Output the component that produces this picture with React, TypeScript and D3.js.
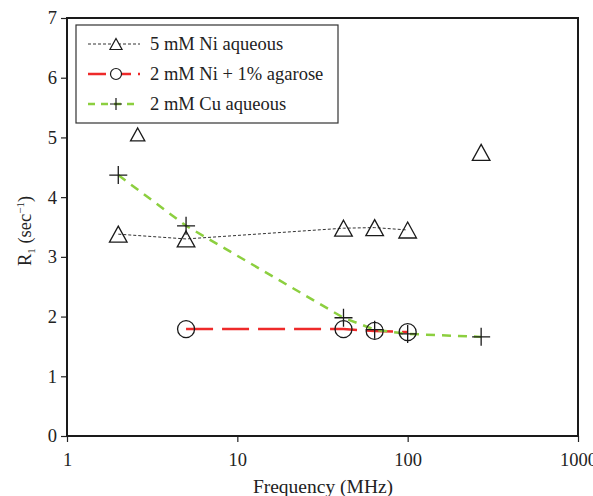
import React, { useEffect, useRef } from 'react';
import * as d3 from 'd3';

// Frequencies (MHz) and R1 values (sec^-1)
const niFreq = [2, 5, 42, 64, 100];
const niR1 = [3.38, 3.3, 3.48, 3.49, 3.45];

const agFreq = [5, 42, 64, 100];
const agR1 = [1.79, 1.79, 1.76, 1.74];

const cuFreq = [2, 5, 42, 64, 100, 270];
const cuR1 = [4.37, 3.52, 1.98, 1.78, 1.71, 1.66];

// lone triangles not joined by the line
const loneFreq = [2.6, 270];
const loneR1 = [5.05, 4.75];

const xTicks = [1, 10, 100, 1000];
const yTicks = [0, 1, 2, 3, 4, 5, 6, 7];

const legendLabels = ['5 mM Ni aqueous', '2 mM Ni + 1% agarose', '2 mM Cu aqueous'];

const FONT = '"Liberation Serif", "DejaVu Serif", serif';

const App = () => {
  const svgRef = useRef(null);

  useEffect(() => {
    const W = 593, H = 496;
    const left = 67, right = 578, top = 18, bottom = 436;

    const svg = d3.select(svgRef.current);
    svg.selectAll('*').remove();
    svg.attr('width', W).attr('height', H);

    const x = d3.scaleLog().domain([1, 1000]).range([left, right]);
    const y = d3.scaleLinear().domain([0, 7]).range([bottom, top]);

    const tri = (s) => `M0,${-s * 0.5}L${s * 0.55},${s * 0.5}L${-s * 0.55},${s * 0.5}Z`;
    const plus = (s) => `M${-s},0H${s}M0,${-s}V${s}`;

    // axes
    const xAxis = svg.append('g')
      .attr('transform', `translate(0,${bottom})`)
      .call(d3.axisBottom(x).tickValues(xTicks).tickFormat(d3.format('d')).tickSize(6).tickSizeOuter(0));
    xAxis.select('.domain').remove();
    xAxis.selectAll('line').attr('stroke', '#222').attr('stroke-width', 1.2);
    xAxis.selectAll('text').attr('font-family', FONT).attr('font-size', 18.5).attr('fill', '#222').attr('y', 12).attr('dy', '0.95em');

    const yAxis = svg.append('g')
      .attr('transform', `translate(${left},0)`)
      .call(d3.axisLeft(y).tickValues(yTicks).tickFormat(d3.format('d')).tickSize(6).tickSizeOuter(0));
    yAxis.select('.domain').remove();
    yAxis.selectAll('line').attr('stroke', '#222').attr('stroke-width', 1.2);
    yAxis.selectAll('text').attr('font-family', FONT).attr('font-size', 18.5).attr('fill', '#222').attr('x', -10);

    // frame
    svg.append('rect')
      .attr('x', left).attr('y', top)
      .attr('width', right - left).attr('height', bottom - top)
      .attr('fill', 'none').attr('stroke', '#1a1a1a').attr('stroke-width', 2);

    // axis titles
    svg.append('text')
      .attr('x', 323).attr('y', 493)
      .attr('text-anchor', 'middle')
      .attr('font-family', FONT).attr('font-size', 19.5).attr('fill', '#222')
      .text('Frequency (MHz)');

    const yl = svg.append('text')
      .attr('transform', `translate(31,${(top + bottom) / 2 + 4}) rotate(-90)`)
      .attr('text-anchor', 'middle')
      .attr('font-family', FONT).attr('font-size', 18.5).attr('fill', '#222');
    yl.append('tspan').text('R');
    yl.append('tspan').attr('font-size', 11).attr('dy', 4).text('1');
    yl.append('tspan').attr('dy', -4).text(' (sec');
    yl.append('tspan').attr('font-size', 11).attr('dy', -7).text('−1');
    yl.append('tspan').attr('dy', 7).text(')');

    const line = d3.line().x(d => x(d[0])).y(d => y(d[1]));
    const ni = niFreq.map((f, i) => [f, niR1[i]]);
    const ag = agFreq.map((f, i) => [f, agR1[i]]);
    const cu = cuFreq.map((f, i) => [f, cuR1[i]]);
    const lone = loneFreq.map((f, i) => [f, loneR1[i]]);

    svg.append('path').datum(ni).attr('d', line)
      .attr('fill', 'none').attr('stroke', '#333').attr('stroke-width', 1).attr('stroke-dasharray', '3,2');
    svg.append('path').datum(ag).attr('d', line)
      .attr('fill', 'none').attr('stroke', '#ee2a2a').attr('stroke-width', 2.5).attr('stroke-dasharray', '27,9');
    svg.append('path').datum(cu).attr('d', line)
      .attr('fill', 'none').attr('stroke', '#8ccf3f').attr('stroke-width', 2.5).attr('stroke-dasharray', '9,7');

    // markers
    svg.append('g').selectAll('path').data(ni).join('path')
      .attr('transform', d => `translate(${x(d[0])},${y(d[1])})`)
      .attr('d', tri(16)).attr('fill', 'none').attr('stroke', '#1a1a1a').attr('stroke-width', 1.3);
    svg.append('g').selectAll('path').data(lone).join('path')
      .attr('transform', d => `translate(${x(d[0])},${y(d[1])})`)
      .attr('d', (d, i) => tri(i === 0 ? 13 : 16)).attr('fill', 'none').attr('stroke', '#1a1a1a').attr('stroke-width', 1.3);
    svg.append('g').selectAll('circle').data(ag).join('circle')
      .attr('cx', d => x(d[0])).attr('cy', d => y(d[1])).attr('r', 8.5)
      .attr('fill', 'none').attr('stroke', '#1a1a1a').attr('stroke-width', 1.3);
    svg.append('g').selectAll('path').data(cu).join('path')
      .attr('transform', d => `translate(${x(d[0])},${y(d[1])})`)
      .attr('d', plus(9)).attr('fill', 'none').attr('stroke', '#1a1a1a').attr('stroke-width', 1.3);

    // legend
    const lg = svg.append('g');
    lg.append('rect').attr('x', 76).attr('y', 25).attr('width', 262).attr('height', 98)
      .attr('fill', 'white').attr('stroke', '#333').attr('stroke-width', 1.2);
    const rowY = [44, 74, 104];
    const styles = [
      { stroke: '#333', w: 1, dash: '3,2' },
      { stroke: '#ee2a2a', w: 2.5, dash: '18,7' },
      { stroke: '#8ccf3f', w: 2.5, dash: '7,6' },
    ];
    legendLabels.forEach((lab, i) => {
      const yy = rowY[i];
      lg.append('line').attr('x1', 88).attr('x2', 140).attr('y1', yy).attr('y2', yy)
        .attr('stroke', styles[i].stroke).attr('stroke-width', styles[i].w).attr('stroke-dasharray', styles[i].dash);
      const mk = lg.append('g').attr('transform', `translate(116,${yy})`);
      if (i === 0) mk.append('path').attr('d', tri(11)).attr('fill', 'white').attr('stroke', '#1a1a1a').attr('stroke-width', 1.2);
      if (i === 1) mk.append('circle').attr('r', 5.5).attr('fill', 'white').attr('stroke', '#1a1a1a').attr('stroke-width', 1.2);
      if (i === 2) mk.append('path').attr('d', plus(6)).attr('stroke', '#1a1a1a').attr('stroke-width', 1.2);
      lg.append('text').attr('x', 150).attr('y', yy + 6)
        .attr('font-family', FONT).attr('font-size', 18.5).attr('fill', '#222').text(lab);
    });
  }, []);

  return <svg ref={svgRef} style={{ position: 'absolute', left: 0, top: 0 }}></svg>;
};

export default App;
